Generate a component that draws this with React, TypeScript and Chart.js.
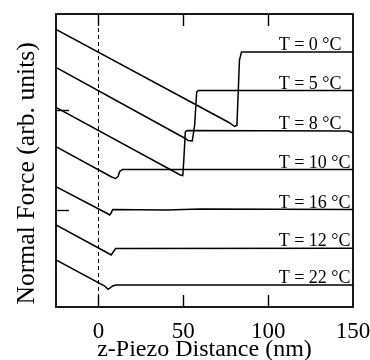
import React, { useEffect, useRef } from "react";
import { Chart, registerables } from "chart.js";

Chart.register(...registerables);

// ---- data (z-piezo distance in nm, normal force in arb. units) ----
const xMin = -25;
const xMax = 150;
const yMin = -0.97;
const yMax = 1.96;
const xTickValues = [0, 50, 100];
const yTickValues = [0, 1];

const t0X = [-25, 76.9, 80.2, 81.6, 83.1, 84.3, 150];
const t0Y = [1.807, 0.875, 0.835, 0.845, 1.5, 1.58, 1.58];

const t5X = [-25, 51.2, 52.9, 55.3, 56.7, 57.9, 58.8, 150];
const t5Y = [1.427, 0.715, 0.695, 0.69, 0.85, 1.18, 1.195, 1.195];

const t8X = [-25, 48.2, 49.7, 50.3, 51.2, 52.3, 147.3, 150];
const t8Y = [1.025, 0.35, 0.345, 0.5, 0.78, 0.795, 0.79, 0.77];

const t10X = [-25, 7.8, 10.1, 11.6, 12.5, 14.2, 150];
const t10Y = [0.633, 0.33, 0.315, 0.335, 0.385, 0.405, 0.405];

const t16X = [-25, 5.2, 6.6, 7.5, 8.4, 40, 60, 150];
const t16Y = [0.233, -0.035, -0.05, -0.03, 0.005, 0.0, 0.01, 0.005];

const t12X = [-25, 6.0, 7.5, 8.7, 10.1, 150];
const t12Y = [-0.148, -0.435, -0.45, -0.42, -0.385, -0.383];

const t22X = [-25, 3.7, 5.7, 7.2, 8.4, 10.4, 150];
const t22Y = [-0.5, -0.76, -0.793, -0.775, -0.76, -0.75, -0.75];

const curveLabels = ["T = 0 °C", "T = 5 °C", "T = 8 °C", "T = 10 °C", "T = 16 °C", "T = 12 °C", "T = 22 °C"];
const labelLevels = [1.58, 1.195, 0.795, 0.405, 0.005, -0.383, -0.75];
const labelX = 106.2;

const curvesX = [t0X, t5X, t8X, t10X, t16X, t12X, t22X];
const curvesY = [t0Y, t5Y, t8Y, t10Y, t16Y, t12Y, t22Y];

const FONT = "'Liberation Serif', 'Times New Roman', serif";

const decor = {
  id: "decor",
  beforeDatasetsDraw(chart: any) {
    const { ctx, chartArea: a, scales } = chart;
    const x = scales.x;
    ctx.save();
    ctx.strokeStyle = "#000";
    ctx.lineWidth = 1;
    ctx.setLineDash([4, 3]);
    const zx = Math.round(x.getPixelForValue(0)) + 0.5;
    ctx.beginPath();
    ctx.moveTo(zx, a.top);
    ctx.lineTo(zx, a.bottom);
    ctx.stroke();
    ctx.restore();
  },
  afterDatasetsDraw(chart: any) {
    const { ctx, chartArea: a, scales } = chart;
    const x = scales.x;
    const y = scales.y;
    ctx.save();
    ctx.strokeStyle = "#000";
    ctx.setLineDash([]);
    ctx.lineWidth = 1.4;
    xTickValues.forEach((v) => {
      const px = Math.round(x.getPixelForValue(v)) + 0.5;
      ctx.beginPath();
      ctx.moveTo(px, a.top);
      ctx.lineTo(px, a.top + 12);
      ctx.moveTo(px, a.bottom);
      ctx.lineTo(px, a.bottom - 12);
      ctx.stroke();
    });
    yTickValues.forEach((v) => {
      const py = Math.round(y.getPixelForValue(v)) + 0.5;
      ctx.beginPath();
      ctx.moveTo(a.left, py);
      ctx.lineTo(a.left + 13, py);
      ctx.stroke();
    });
    ctx.lineWidth = 1.8;
    ctx.strokeRect(a.left, a.top, a.right - a.left, a.bottom - a.top);
    ctx.fillStyle = "#000";
    ctx.font = "18px " + FONT;
    ctx.textAlign = "left";
    ctx.textBaseline = "alphabetic";
    curveLabels.forEach((t, i) => {
      ctx.fillText(t, x.getPixelForValue(labelX), y.getPixelForValue(labelLevels[i]) - 2);
    });
    ctx.restore();
  },
};

export default function App() {
  const ref = useRef<HTMLCanvasElement | null>(null);
  useEffect(() => {
    if (!ref.current) return;
    const datasets = curvesX.map((xs, i) => ({
      label: curveLabels[i],
      data: xs.map((xv, j) => ({ x: xv, y: curvesY[i][j] })),
      borderColor: "#000",
      borderWidth: 1.5,
      pointRadius: 0,
      tension: 0,
      fill: false,
    }));
    const chart = new Chart(ref.current, {
      type: "line",
      data: { datasets },
      options: {
        animation: false,
        responsive: false,
        devicePixelRatio: 1,
        layout: { padding: { top: 14, right: 17, left: 0, bottom: 0 } },
        plugins: { legend: { display: false }, tooltip: { enabled: false } },
        scales: {
          x: {
            type: "linear",
            min: xMin,
            max: xMax,
            grid: { display: false, drawTicks: false },
            border: { display: false },
            ticks: {
              stepSize: 50,
              includeBounds: false,
              color: "#000",
              padding: 11,
              maxRotation: 0,
              font: { family: FONT, size: 23 },
            },
            title: {
              display: true,
              text: "z-Piezo Distance (nm)",
              color: "#000",
              padding: { top: 0, bottom: 0 },
              font: { family: FONT, size: 24, lineHeight: 0.85 },
            },
            afterFit: (s: any) => {
              s.height = 53;
              s.paddingLeft = 0;
              s.paddingRight = 0;
            },
          },
          y: {
            type: "linear",
            min: yMin,
            max: yMax,
            grid: { display: false, drawTicks: false },
            border: { display: false },
            ticks: { display: false },
            title: {
              display: true,
              text: "Normal Force (arb. units)    ",
              color: "#000",
              padding: { top: 12, bottom: 0 },
              font: { family: FONT, size: 25.7 },
            },
            afterFit: (s: any) => {
              s.width = 56;
              s.paddingTop = 0;
              s.paddingBottom = 0;
            },
          },
        },
      },
      plugins: [decor],
    });
    return () => chart.destroy();
  }, []);
  return (
    <div style={{ position: "absolute", left: 0, top: 0, width: 370, height: 360, background: "#fff" }}>
      <canvas ref={ref} width={370} height={360} style={{ display: "block", width: 370, height: 360 }} />
    </div>
  );
}
